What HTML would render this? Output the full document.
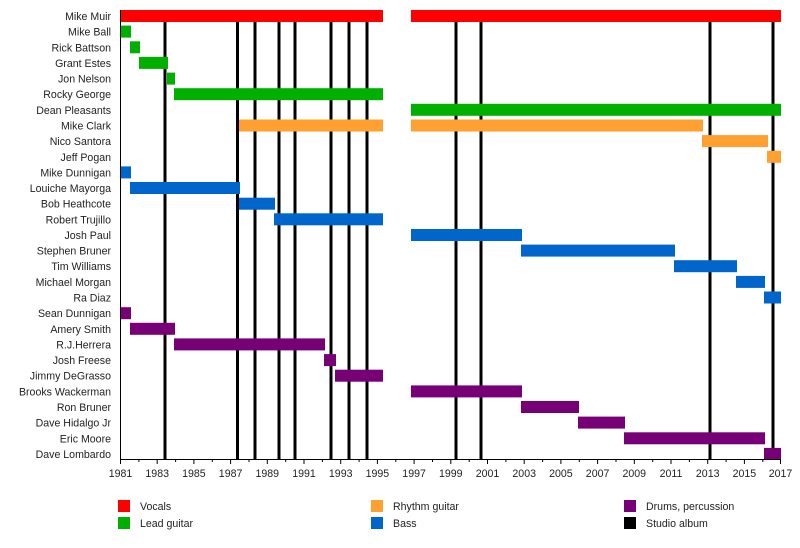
<!DOCTYPE html>
<html><head><meta charset="utf-8"><style>
html,body{margin:0;padding:0;background:#fff;}
svg{display:block;font-family:"Liberation Sans",Arial,sans-serif;}
text{font-size:10.6px;fill:#222;}
</style></head><body>
<svg width="800" height="548" viewBox="0 0 800 548" xmlns="http://www.w3.org/2000/svg">
<g stroke="#000" stroke-width="3">
<line x1="165" y1="10" x2="165" y2="459"/><line x1="237.5" y1="10" x2="237.5" y2="459"/>
<line x1="255" y1="10" x2="255" y2="459"/><line x1="279" y1="10" x2="279" y2="459"/>
<line x1="295" y1="10" x2="295" y2="459"/><line x1="331" y1="10" x2="331" y2="459"/>
<line x1="349" y1="10" x2="349" y2="459"/><line x1="367" y1="10" x2="367" y2="459"/>
<line x1="456" y1="10" x2="456" y2="459"/><line x1="481" y1="10" x2="481" y2="459"/>
<line x1="710" y1="10" x2="710" y2="459"/><line x1="773" y1="10" x2="773" y2="459"/>
</g>
<g fill="#ff0000"><rect x="120" y="10" width="263" height="12"/><rect x="411" y="10" width="370" height="12"/></g>
<g fill="#00b000">
<rect x="120" y="25.6" width="11" height="12"/>
<rect x="130" y="41.3" width="10" height="12"/>
<rect x="139" y="56.9" width="29" height="12"/>
<rect x="167" y="72.6" width="8" height="12"/>
<rect x="174" y="88.2" width="209" height="12"/>
<rect x="411" y="103.8" width="370" height="12"/>
</g>
<g fill="#ffa030">
<rect x="239" y="119.5" width="144" height="12"/><rect x="411" y="119.5" width="292" height="12"/>
<rect x="702" y="135.1" width="66" height="12"/>
<rect x="767" y="150.8" width="14" height="12"/>
</g>
<g fill="#0066cc">
<rect x="120" y="166.4" width="11" height="12"/>
<rect x="130" y="182" width="110" height="12"/>
<rect x="239" y="197.7" width="36" height="12"/>
<rect x="274" y="213.3" width="109" height="12"/>
<rect x="411" y="229" width="111" height="12"/>
<rect x="521" y="244.6" width="154" height="12"/>
<rect x="674" y="260.2" width="63" height="12"/>
<rect x="736" y="275.9" width="29" height="12"/>
<rect x="764" y="291.5" width="17" height="12"/>
</g>
<g fill="#770077">
<rect x="120" y="307.2" width="11" height="12"/>
<rect x="130" y="322.8" width="45" height="12"/>
<rect x="174" y="338.4" width="151" height="12"/>
<rect x="324" y="354.1" width="12" height="12"/>
<rect x="335" y="369.7" width="48" height="12"/>
<rect x="411" y="385.4" width="111" height="12"/>
<rect x="521" y="401" width="58" height="12"/>
<rect x="578" y="416.6" width="47" height="12"/>
<rect x="624" y="432.3" width="141" height="12"/>
<rect x="764" y="447.9" width="17" height="12"/>
</g>
<g text-anchor="end">
<text x="111" y="20">Mike Muir</text><text x="111" y="35.6">Mike Ball</text>
<text x="111" y="51.3">Rick Battson</text><text x="111" y="66.9">Grant Estes</text>
<text x="111" y="82.6">Jon Nelson</text><text x="111" y="98.2">Rocky George</text>
<text x="111" y="113.8">Dean Pleasants</text><text x="111" y="129.5">Mike Clark</text>
<text x="111" y="145.1">Nico Santora</text><text x="111" y="160.8">Jeff Pogan</text>
<text x="111" y="176.4">Mike Dunnigan</text><text x="111" y="192">Louiche Mayorga</text>
<text x="111" y="207.7">Bob Heathcote</text><text x="111" y="223.3">Robert Trujillo</text>
<text x="111" y="239">Josh Paul</text><text x="111" y="254.6">Stephen Bruner</text>
<text x="111" y="270.2">Tim Williams</text><text x="111" y="285.9">Michael Morgan</text>
<text x="111" y="301.5">Ra Diaz</text><text x="111" y="317.2">Sean Dunnigan</text>
<text x="111" y="332.8">Amery Smith</text><text x="111" y="348.4">R.J.Herrera</text>
<text x="111" y="364.1">Josh Freese</text><text x="111" y="379.7">Jimmy DeGrasso</text>
<text x="111" y="395.4">Brooks Wackerman</text><text x="111" y="411">Ron Bruner</text>
<text x="111" y="426.6">Dave Hidalgo Jr</text><text x="111" y="442.3">Eric Moore</text>
<text x="111" y="457.9">Dave Lombardo</text>
</g>
<g stroke="#000" stroke-width="1">
<line x1="120.5" y1="10" x2="120.5" y2="459.5"/>
<line x1="120" y1="459.5" x2="781" y2="459.5"/>
<path d="M120.5 459v5M138.9 459v3M157.2 459v5M175.6 459v3M193.9 459v5M212.3 459v3M230.6 459v5M249 459v3M267.3 459v5M285.7 459v3M304 459v5M322.4 459v3M340.7 459v5M359.1 459v3M377.4 459v5M395.8 459v3M414.1 459v5M432.5 459v3M450.8 459v5M469.2 459v3M487.5 459v5M505.9 459v3M524.2 459v5M542.6 459v3M560.9 459v5M579.3 459v3M597.6 459v5M616 459v3M634.3 459v5M652.7 459v3M671 459v5M689.4 459v3M707.7 459v5M726.1 459v3M744.4 459v5M762.8 459v3M780.5 459v5"/>
</g>
<g text-anchor="middle">
<text x="120.5" y="477">1981</text><text x="157.2" y="477">1983</text><text x="193.9" y="477">1985</text>
<text x="230.6" y="477">1987</text><text x="267.3" y="477">1989</text><text x="304" y="477">1991</text>
<text x="340.7" y="477">1993</text><text x="377.4" y="477">1995</text><text x="414.1" y="477">1997</text>
<text x="450.8" y="477">1999</text><text x="487.5" y="477">2001</text><text x="524.2" y="477">2003</text>
<text x="560.9" y="477">2005</text><text x="597.6" y="477">2007</text><text x="634.3" y="477">2009</text>
<text x="671" y="477">2011</text><text x="707.7" y="477">2013</text><text x="744.4" y="477">2015</text>
<text x="780.5" y="477">2017</text>
</g>
<rect x="118" y="500" width="12" height="12" fill="#ff0000"/><text x="140" y="510">Vocals</text>
<rect x="118" y="517" width="12" height="12" fill="#00b000"/><text x="140" y="527">Lead guitar</text>
<rect x="371" y="500" width="12" height="12" fill="#ffa030"/><text x="393" y="510">Rhythm guitar</text>
<rect x="371" y="517" width="12" height="12" fill="#0066cc"/><text x="393" y="527">Bass</text>
<rect x="624" y="500" width="12" height="12" fill="#770077"/><text x="646" y="510">Drums, percussion</text>
<rect x="624" y="517" width="12" height="12" fill="#000"/><text x="646" y="527">Studio album</text>
</svg>
</body></html>
